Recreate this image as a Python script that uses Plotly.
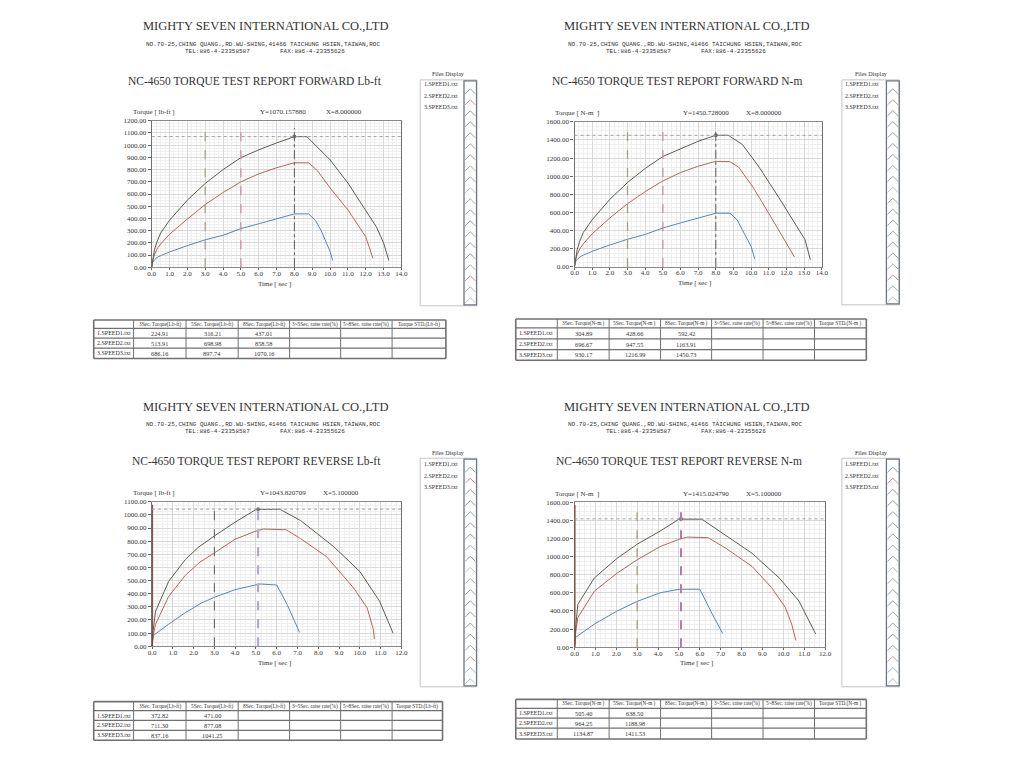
import plotly.graph_objects as go

# ---------------- data ----------------
file_names = ["1.SPEED1.txt", "2.SPEED2.txt", "3.SPEED3.txt"]
company = "MIGHTY SEVEN INTERNATIONAL CO.,LTD"
address = "NO.70-25,CHING QUANG.,RD.WU-SHING,41466 TAICHUNG HSIEN,TAIWAN,ROC"
tel_text = "TEL:886-4-23358587"
fax_text = "FAX:886-4-23355626"
report_titles = ["NC-4650 TORQUE TEST REPORT FORWARD Lb-ft",
                 "NC-4650 TORQUE TEST REPORT FORWARD N-m",
                 "NC-4650 TORQUE TEST REPORT REVERSE Lb-ft",
                 "NC-4650 TORQUE TEST REPORT REVERSE N-m"]
y_titles = ["Torque [ lb-ft ]", "Torque [ N-m  ]", "Torque [ lb-ft ]", "Torque [ N-m  ]"]
x_title = "Time [ sec ]"
files_title = "Files Display"

# Forward, lb-ft
fwd_lbft_time_1 = [0, 0.05, 0.15, 0.3, 0.5, 1, 2, 3, 4, 5, 6, 7, 8, 8.8, 9.2, 9.5, 9.8, 10.0, 10.15]
fwd_lbft_torque_1 = [0, 40, 60, 80, 95, 125, 177, 225, 262, 316, 356, 397, 437, 437, 380, 300, 200, 130, 55]
fwd_lbft_time_2 = [0, 0.05, 0.15, 0.3, 0.5, 1, 2, 3, 4, 5, 6, 7, 8, 8.8, 9.3, 10, 11, 12, 12.4]
fwd_lbft_torque_2 = [0, 50, 100, 150, 190, 270, 395, 514, 612, 699, 765, 815, 856, 855, 790, 650, 470, 250, 75]
fwd_lbft_time_3 = [0, 0.05, 0.15, 0.3, 0.5, 1, 2, 3, 4, 5, 6, 7, 8, 8.7, 9.2, 10, 11, 12, 12.6, 13.0, 13.3]
fwd_lbft_torque_3 = [0, 60, 140, 210, 280, 385, 550, 686, 800, 898, 962, 1018, 1070, 1070, 1000, 880, 690, 470, 330, 200, 55]

# Forward, N-m
fwd_nm_time_1 = [0, 0.05, 0.15, 0.3, 0.5, 1, 2, 3, 4, 5, 6, 7, 8, 8.8, 9.2, 9.5, 9.8, 10.0, 10.2]
fwd_nm_torque_1 = [0, 55, 80, 110, 130, 172, 242, 305, 358, 429, 485, 540, 592, 592, 520, 410, 300, 225, 90]
fwd_nm_time_2 = [0, 0.05, 0.15, 0.3, 0.5, 1, 2, 3, 4, 5, 6, 7, 8, 8.8, 9.3, 10.1, 11, 11.9, 12.45]
fwd_nm_torque_2 = [0, 70, 135, 200, 255, 365, 540, 697, 830, 948, 1040, 1110, 1164, 1160, 1098, 880, 590, 300, 110]
fwd_nm_time_3 = [0, 0.05, 0.15, 0.3, 0.5, 1, 2, 3, 4, 5, 6, 7, 8, 8.7, 9.5, 10.45, 11.55, 12.5, 13.05, 13.35]
fwd_nm_torque_3 = [0, 80, 190, 285, 380, 520, 745, 930, 1085, 1217, 1305, 1385, 1451, 1451, 1350, 1100, 770, 480, 300, 80]

# Reverse, lb-ft
rev_lbft_time_1 = [0, 0.05, 0.8, 1.6, 2.4, 3.0, 4.0, 5.0, 5.2, 6.0, 6.5, 7.1]
rev_lbft_torque_1 = [0, 80, 168, 256, 331, 373, 431, 471, 474, 466, 318, 105]
rev_lbft_time_2 = [0, 0.05, 0.17, 0.8, 1.6, 2.3, 3.0, 4.0, 5.0, 5.35, 6.45, 7.15, 8.4, 9.7, 10.35, 10.65, 10.7]
rev_lbft_torque_2 = [0, 80, 168, 380, 540, 640, 711, 815, 877, 892, 887, 819, 682, 444, 293, 130, 55]
rev_lbft_time_3 = [0, 0.05, 0.17, 0.8, 1.6, 2.2, 3.0, 4.0, 5.0, 6.15, 7.15, 8.75, 10.0, 10.95, 11.6]
rev_lbft_torque_3 = [0, 120, 268, 494, 660, 750, 840, 945, 1041, 1043, 957, 757, 569, 343, 100]

# Reverse, N-m
rev_nm_time_1 = [0, 0.05, 0.95, 2.05, 3.0, 4.1, 5.0, 6.0, 6.6, 7.1]
rev_nm_torque_1 = [0, 109, 255, 400, 505, 600, 638, 640, 364, 150]
rev_nm_time_2 = [0, 0.05, 0.16, 0.95, 2.05, 3.0, 4.1, 5.0, 5.4, 6.4, 7.25, 8.5, 9.45, 10.1, 10.4, 10.6]
rev_nm_torque_2 = [0, 150, 327, 618, 818, 964, 1109, 1189, 1214, 1207, 1091, 891, 654, 436, 255, 73]
rev_nm_time_3 = [0, 0.05, 0.16, 0.95, 2.05, 3.0, 4.1, 5.0, 6.1, 7.25, 8.5, 9.8, 10.75, 11.55]
rev_nm_torque_3 = [0, 200, 473, 764, 982, 1135, 1280, 1411, 1411, 1236, 1036, 764, 509, 145]

cursor_x = [8.0, 8.0, 5.1, 5.1]
cursor_y = [1070.157880, 1450.728000, 1043.820709, 1415.024790]
marker_times = [[3.0, 5.0, 8.0], [3.0, 5.0, 8.0], [3.0, 5.1], [3.0, 5.1]]
y_max = [1200, 1600, 1100, 1600]
y_step = [100, 200, 100, 200]
x_max = [14, 14, 12, 12]

table_header_lbft = ["", "3Sec. Torque(Lb-ft)", "5Sec. Torque(Lb-ft)", "8Sec. Torque(Lb-ft)",
                     "3~5Sec. raise rate(%)", "5~8Sec. raise rate(%)", "Torque STD.(Lb-ft)"]
table_header_nm = ["", "3Sec. Torque(N-m )", "5Sec. Torque(N-m )", "8Sec. Torque(N-m )",
                   "3~5Sec. raise rate(%)", "5~8Sec. raise rate(%)", "Torque STD.(N-m )"]
fwd_lbft_table = [["224.91", "316.21", "437.01"], ["513.91", "698.98", "858.58"], ["686.16", "897.74", "1070.16"]]
fwd_nm_table = [["304.89", "428.66", "592.42"], ["696.67", "947.55", "1163.91"], ["930.17", "1216.99", "1450.73"]]
rev_lbft_table = [["372.82", "471.00", ""], ["711.30", "877.08", ""], ["837.16", "1041.25", ""]]
rev_nm_table = [["505.40", "638.50", ""], ["964.25", "1188.98", ""], ["1134.87", "1411.53", ""]]

panel_series = [
    [(fwd_lbft_time_1, fwd_lbft_torque_1), (fwd_lbft_time_2, fwd_lbft_torque_2), (fwd_lbft_time_3, fwd_lbft_torque_3)],
    [(fwd_nm_time_1, fwd_nm_torque_1), (fwd_nm_time_2, fwd_nm_torque_2), (fwd_nm_time_3, fwd_nm_torque_3)],
    [(rev_lbft_time_1, rev_lbft_torque_1), (rev_lbft_time_2, rev_lbft_torque_2), (rev_lbft_time_3, rev_lbft_torque_3)],
    [(rev_nm_time_1, rev_nm_torque_1), (rev_nm_time_2, rev_nm_torque_2), (rev_nm_time_3, rev_nm_torque_3)],
]
panel_tables = [(table_header_lbft, fwd_lbft_table), (table_header_nm, fwd_nm_table),
                (table_header_lbft, rev_lbft_table), (table_header_nm, rev_nm_table)]

# ---------------- layout / styles ----------------
W, H = 1024, 768


def px(x):
    return x / W


def py(y):
    return 1 - y / H


series_colors = ["#5b86ad", "#b5665c", "#56614f"]
SERIF = "Liberation Serif"
MONO = "Liberation Mono"
TXT = "#333333"

panels = [
    dict(hdr_cx=264, hdr_y=22, addr_y=40.5, tel_y=47.5, title_cx=254, title_y=77.5,
         plot_x=(149.3, 401.7), plot_y=(118, 266), ylab_x=128, lab_y=109, ytxt_cx=282, xtxt_cx=344,
         time_xy=(273, 282.5), files_box=(420.7, 477.7, 76.7, 305), files_inner=465, files_title_y=71,
         files_entry_y=(81.3, 93, 104.5),
         tbl_cols=[90.7, 131, 184, 236.7, 288.7, 340.3, 392.3, 446.7], tbl_rows=[319.3, 327.7, 337.7, 347.7, 358.3],
         cur_colors=["#a2a68e", "#c88ea6", "#5a5a5a"], cur_dash=["dash", "dash", "dashdot"], cur_w=[1.3, 1.3, 1]),
    dict(hdr_cx=690, hdr_y=22, addr_y=40.5, tel_y=47.5, title_cx=680, title_y=77.5,
         plot_x=(576.7, 826.7), plot_y=(119, 265.7), ylab_x=555, lab_y=110, ytxt_cx=710, xtxt_cx=768,
         time_xy=(698, 282), files_box=(847, 905, 76.7, 304), files_inner=892, files_title_y=71,
         files_entry_y=(81.3, 93, 104.5),
         tbl_cols=[517.3, 559.3, 611.7, 663.7, 715.3, 767.3, 819.3, 871.7], tbl_rows=[318.3, 327.3, 338.3, 349.3, 360],
         cur_colors=["#a89c86", "#c88ea6", "#5a5a5a"], cur_dash=["dash", "dash", "dashdot"], cur_w=[1.3, 1.3, 1]),
    dict(hdr_cx=264, hdr_y=407, addr_y=425, tel_y=432, title_cx=255, title_y=462,
         plot_x=(149.7, 401.7), plot_y=(503, 649), ylab_x=128, lab_y=494, ytxt_cx=282, xtxt_cx=341,
         time_xy=(273, 666), files_box=(420.7, 477.7, 459, 690), files_inner=465, files_title_y=454,
         files_entry_y=(465, 477, 488.5),
         tbl_cols=[90.7, 131, 184, 236.7, 288.7, 340.3, 392.3, 443.3], tbl_rows=[705, 714, 724, 734, 744],
         cur_colors=["#6e6e6e", "#b4a6cc"], cur_dash=["dash", "dash"], cur_w=[1.2, 2.2], zero_line=True),
    dict(hdr_cx=690, hdr_y=407, addr_y=425, tel_y=432, title_cx=682, title_y=462,
         plot_x=(576.7, 830), plot_y=(503.3, 650), ylab_x=555, lab_y=495, ytxt_cx=710, xtxt_cx=768,
         time_xy=(700, 666), files_box=(847, 905, 459, 690), files_inner=892, files_title_y=454,
         files_entry_y=(465, 477, 488.5),
         tbl_cols=[517.3, 559.3, 611.7, 663.7, 715.3, 767.3, 819.3, 871.7], tbl_rows=[702.7, 711.7, 721.7, 731.7, 742.7],
         cur_colors=["#a89a7c", "#b27aa8"], cur_dash=["dash", "dash"], cur_w=[1.3, 2.0], zero_line=True),
]

chevron_colors = ["#7d8ea6", "#c08a8a", "#8e8e8e", "#7f8f7f", "#8a94a8", "#9a8a9a", "#8e8e8e", "#a0a0b0",
                  "#8e98a8", "#b0b8c0", "#9aa89a", "#8e8e9e", "#7d8ea6", "#9a9a9a", "#8e98a8", "#8a8a9a",
                  "#a0a0a0", "#b09090", "#9aaabb", "#a8c0c8"]

fig = go.Figure()
annotations = []
shapes = []
layout_axes = {}


def add_text(x, y, text, size, family=SERIF, xanchor="center", color=TXT):
    annotations.append(dict(x=px(x), y=py(y), xref="paper", yref="paper", text=text, showarrow=False,
                            xanchor=xanchor, yanchor="middle", font=dict(family=family, size=size, color=color)))


def add_line(x0, y0, x1, y1, color="#888888", width=1):
    shapes.append(dict(type="line", xref="paper", yref="paper", x0=px(x0), y0=py(y0), x1=px(x1), y1=py(y1),
                       line=dict(color=color, width=width)))


for k, P in enumerate(panels):
    n = k + 1
    xa = "x" if n == 1 else f"x{n}"
    ya = "y" if n == 1 else f"y{n}"

    # header texts
    add_text(P["hdr_cx"], P["hdr_y"], company, 12.5)
    add_text(P["hdr_cx"] - 2, P["addr_y"], address, 6, family=MONO)
    add_text(P["hdr_cx"] - 13.3, P["tel_y"], tel_text, 6, family=MONO, xanchor="right")
    add_text(P["hdr_cx"] + 12.7, P["tel_y"], fax_text, 6, family=MONO, xanchor="left")
    add_text(P["title_cx"], P["title_y"], report_titles[k], 11.5)

    # axes
    tickfont = dict(family=SERIF, size=7, color=TXT)
    layout_axes["xaxis" if n == 1 else f"xaxis{n}"] = dict(
        domain=[px(P["plot_x"][0]), px(P["plot_x"][1])], range=[0, x_max[k]], dtick=1, tickformat=".1f",
        anchor=ya, showline=True, linecolor="#8a8a8a", mirror=True, ticks="outside", ticklen=2, tickcolor="#666",
        ticklabelstandoff=-3,
        showgrid=True, gridcolor="#d9d9d9", gridwidth=1, zeroline=False, tickfont=tickfont,
        minor=dict(dtick=0.25, showgrid=True, gridcolor="#efefef", griddash="solid"), fixedrange=True)
    layout_axes["yaxis" if n == 1 else f"yaxis{n}"] = dict(
        domain=[py(P["plot_y"][1]), py(P["plot_y"][0])], range=[0, y_max[k]], dtick=y_step[k], tickformat=".2f",
        anchor=xa, showline=True, linecolor="#707070", linewidth=1.2, mirror=True, ticks="outside", ticklen=3,
        tickcolor="#666", showgrid=True, gridcolor="#d9d9d9", gridwidth=1, zeroline=False, tickfont=tickfont,
        minor=dict(dtick=y_step[k] / 4, showgrid=True, gridcolor="#efefef", griddash="solid"), fixedrange=True)

    # curves
    for j, (t, v) in enumerate(panel_series[k]):
        fig.add_trace(go.Scatter(x=t, y=v, mode="lines", xaxis=xa, yaxis=ya, name=file_names[j],
                                 line=dict(color=series_colors[j], width=1), showlegend=False))

    # cursor lines
    for i, mt in enumerate(marker_times[k]):
        shapes.append(dict(type="line", xref=xa, yref=f"{ya} domain", x0=mt, x1=mt, y0=0, y1=0.95,
                           line=dict(color=P["cur_colors"][i], width=P["cur_w"][i], dash=P["cur_dash"][i])))
    if P.get("zero_line"):
        shapes.append(dict(type="line", xref=xa, yref=f"{ya} domain", x0=0, x1=0, y0=0, y1=0.98,
                           line=dict(color="#8b3a3a", width=2)))
    shapes.append(dict(type="line", xref=f"{xa} domain", yref=ya, x0=0, x1=1, y0=cursor_y[k], y1=cursor_y[k],
                       line=dict(color="#a0a0a0", width=1, dash="dot")))
    fig.add_trace(go.Scatter(x=[cursor_x[k]], y=[cursor_y[k]], mode="markers", xaxis=xa, yaxis=ya,
                             marker=dict(color="#707a70", size=4), showlegend=False))

    # axis labels
    add_text(P["ylab_x"], P["lab_y"], y_titles[k], 7, xanchor="left")
    add_text(P["ytxt_cx"], P["lab_y"], f"Y={cursor_y[k]:.6f}", 7)
    add_text(P["xtxt_cx"], P["lab_y"], f"X={cursor_x[k]:.6f}", 7)
    add_text(P["time_xy"][0], P["time_xy"][1], x_title, 7)

    # files display box
    fx0, fx1, fy0, fy1 = P["files_box"]
    shapes.append(dict(type="rect", xref="paper", yref="paper", x0=px(fx0), x1=px(fx1), y0=py(fy1), y1=py(fy0),
                       line=dict(color="#c4c4c4", width=1), fillcolor="white", layer="below"))
    fin = P["files_inner"]
    shapes.append(dict(type="rect", xref="paper", yref="paper", x0=px(fin), x1=px(fx1), y0=py(fy1 - 1), y1=py(fy0 + 1),
                       line=dict(color="#6a7484", width=1.3)))
    add_text((fx0 + fx1) / 2, P["files_title_y"], files_title, 6)
    for j, name in enumerate(file_names):
        add_text(fx0 + 1.5, P["files_entry_y"][j], name, 6, xanchor="left")
    nchev = len(chevron_colors)
    step = (fy1 - fy0 - 6) / nchev
    for c in range(nchev):
        yc = fy0 + 6 + step * (c + 0.5)
        xm = (fin + fx1) / 2
        path = (f"M {px(fin + 1.2)},{py(yc + 2.6)} L {px(xm)},{py(yc - 2.6)} L {px(fx1 - 1.2)},{py(yc + 2.6)}")
        shapes.append(dict(type="path", xref="paper", yref="paper", path=path,
                           line=dict(color=chevron_colors[c], width=0.9)))

    # table
    header, rows = panel_tables[k]
    cols = P["tbl_cols"]
    rws = P["tbl_rows"]
    for i, cx in enumerate(cols):
        w = 1.6 if i in (0, len(cols) - 1) else 1
        add_line(cx, rws[0], cx, rws[-1], color="#707070", width=w)
    for i, ry in enumerate(rws):
        w = 1.6 if i in (0, len(rws) - 1) else 1.2
        add_line(cols[0], ry, cols[-1], ry, color="#707070", width=w)
    for c in range(1, len(cols) - 1):
        add_text((cols[c] + cols[c + 1]) / 2, (rws[0] + rws[1]) / 2, header[c], 5.3)
    for r, name in enumerate(file_names):
        yc = (rws[r + 1] + rws[r + 2]) / 2
        add_text(cols[0] + 1.5, yc, name, 6, xanchor="left")
        for c, val in enumerate(rows[r]):
            add_text((cols[c + 1] + cols[c + 2]) / 2, yc, val, 6.3)

fig.update_layout(width=W, height=H, margin=dict(l=0, r=0, t=0, b=0), paper_bgcolor="white",
                  plot_bgcolor="white", showlegend=False, annotations=annotations, shapes=shapes, **layout_axes)
fig.write_html("out.html", config={"displayModeBar": False},
               post_script="document.body.style.margin='0';document.body.style.overflow='hidden';")
